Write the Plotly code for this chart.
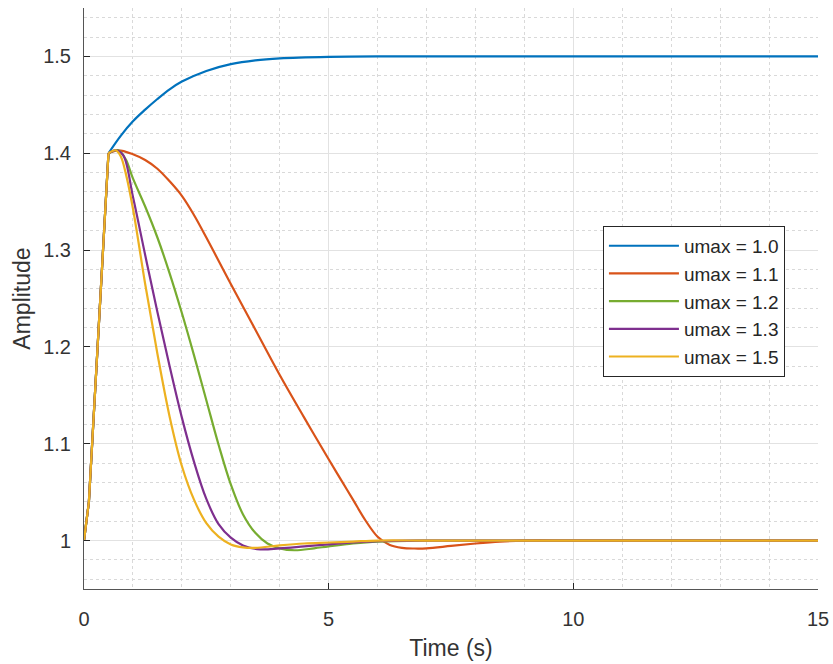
import plotly.graph_objects as go

# ---- data ----
# common initial rise (all runs)
t_rise = [0, 0.1, 0.5]
y_rise = [1.0, 1.04, 1.40]

t_u10 = [0.5, 0.75, 1.0, 1.25, 1.5, 1.75, 2.0, 2.5, 3.0, 3.5, 4.0, 5.0, 6.0, 8.0, 10.0, 12.0, 15.0]
y_u10 = [1.40, 1.418, 1.433, 1.445, 1.456, 1.466, 1.474, 1.485, 1.492, 1.496, 1.498, 1.4995, 1.5, 1.5, 1.5, 1.5, 1.5]

t_u11 = [0.5, 0.7, 1.0, 1.25, 1.5, 1.75, 2.0, 2.25, 2.5, 2.75, 3.0, 3.5, 4.0, 4.5, 5.0, 5.25, 5.5, 5.75, 6.0, 6.25, 6.5, 6.75, 7.0, 7.5, 8.0, 8.5, 9.0, 10.0, 12.0, 15.0]
y_u11 = [1.40, 1.403, 1.399, 1.393, 1.384, 1.371, 1.356, 1.336, 1.313, 1.289, 1.265, 1.218, 1.171, 1.127, 1.084, 1.063, 1.042, 1.021, 1.004, 0.9955, 0.9925, 0.9918, 0.992, 0.9945, 0.997, 0.999, 1.0, 1.0, 1.0, 1.0]

t_u12 = [0.5, 0.7, 0.85, 1.0, 1.25, 1.5, 1.75, 2.0, 2.25, 2.5, 2.75, 3.0, 3.25, 3.5, 3.75, 4.0, 4.3, 4.7, 5.0, 5.5, 6.0, 7.0, 8.0, 10.0, 15.0]
y_u12 = [1.40, 1.403, 1.394, 1.374, 1.345, 1.313, 1.276, 1.235, 1.191, 1.145, 1.099, 1.058, 1.027, 1.008, 0.997, 0.992, 0.990, 0.992, 0.994, 0.997, 0.999, 1.0, 1.0, 1.0, 1.0]

t_u13 = [0.5, 0.65, 0.8, 1.0, 1.25, 1.5, 1.75, 2.0, 2.25, 2.5, 2.75, 3.0, 3.25, 3.6, 4.0, 4.5, 5.0, 5.5, 6.0, 7.0, 8.0, 10.0, 15.0]
y_u13 = [1.40, 1.403, 1.398, 1.355, 1.295, 1.236, 1.180, 1.127, 1.081, 1.043, 1.017, 1.003, 0.995, 0.991, 0.992, 0.994, 0.996, 0.998, 0.9995, 1.0, 1.0, 1.0, 1.0]

t_u15 = [0.5, 0.65, 0.75, 0.85, 1.0, 1.25, 1.5, 1.75, 2.0, 2.25, 2.5, 2.75, 3.0, 3.25, 3.5, 4.0, 4.5, 5.0, 5.5, 6.0, 7.0, 8.0, 10.0, 15.0]
y_u15 = [1.40, 1.403, 1.397, 1.380, 1.343, 1.265, 1.193, 1.128, 1.077, 1.042, 1.018, 1.004, 0.996, 0.993, 0.9925, 0.995, 0.997, 0.998, 0.999, 1.0, 1.0, 1.0, 1.0, 1.0]

series_names = ["umax = 1.0", "umax = 1.1", "umax = 1.2", "umax = 1.3", "umax = 1.5"]
series_t = [t_u10, t_u11, t_u12, t_u13, t_u15]
series_y = [y_u10, y_u11, y_u12, y_u13, y_u15]
colors = ["#0072BD", "#D95319", "#77AC30", "#7E2F8E", "#EDB120"]

x_ticks = [0, 5, 10, 15]
y_ticks = [1.0, 1.1, 1.2, 1.3, 1.4, 1.5]
y_ticktext = ["1", "1.1", "1.2", "1.3", "1.4", "1.5"]

FONT = "Liberation Sans, Arial, sans-serif"
TXT = "#333333"

fig = go.Figure()
for name, tt, yy, c in zip(series_names, series_t, series_y, colors):
    fig.add_trace(go.Scatter(x=t_rise, y=y_rise, mode="lines", name=name, legendgroup=name,
                             showlegend=False, hoverinfo="skip",
                             line=dict(color=c, width=2.2, shape="linear")))
    fig.add_trace(go.Scatter(x=tt, y=yy, mode="lines", name=name, legendgroup=name,
                             line=dict(color=c, width=2.2, shape="spline", smoothing=1.0)))

axis_common = dict(
    showline=True, linecolor="#555555", linewidth=1,
    ticks="inside", ticklen=6, tickcolor="#262626", tickwidth=1,
    showgrid=True, gridcolor="#e2e2e2", gridwidth=1,
    zeroline=False, mirror=False, automargin=False,
    tickfont=dict(family=FONT, size=20, color=TXT),
)

fig.update_xaxes(
    range=[0, 15], tickvals=x_ticks,
    title=dict(text="Time (s)", font=dict(family=FONT, size=23, color=TXT), standoff=10),
    minor=dict(dtick=1, showgrid=True, gridcolor="#d9d9d9", griddash="dot", gridwidth=1, ticks=""),
    ticklabelstandoff=12,
    **axis_common,
)
fig.update_yaxes(
    range=[0.95, 1.55], tickvals=y_ticks, ticktext=y_ticktext,
    title=dict(text="Amplitude", font=dict(family=FONT, size=23, color=TXT), standoff=6),
    minor=dict(dtick=0.02, showgrid=True, gridcolor="#d9d9d9", griddash="dot", gridwidth=1, ticks=""),
    ticklabelstandoff=8,
    **axis_common,
)

fig.update_layout(
    width=833, height=664,
    margin=dict(l=84, r=15, t=8, b=75),
    paper_bgcolor="white", plot_bgcolor="white",
    font=dict(family=FONT, size=20, color=TXT),
    showlegend=True,
    legend=dict(x=0.707, y=0.625, xanchor="left", yanchor="top",
                bgcolor="white", bordercolor="#262626", borderwidth=1,
                font=dict(family=FONT, size=19, color="#262626"),
                itemwidth=70, tracegroupgap=0),
)

fig.write_html("out.html")
